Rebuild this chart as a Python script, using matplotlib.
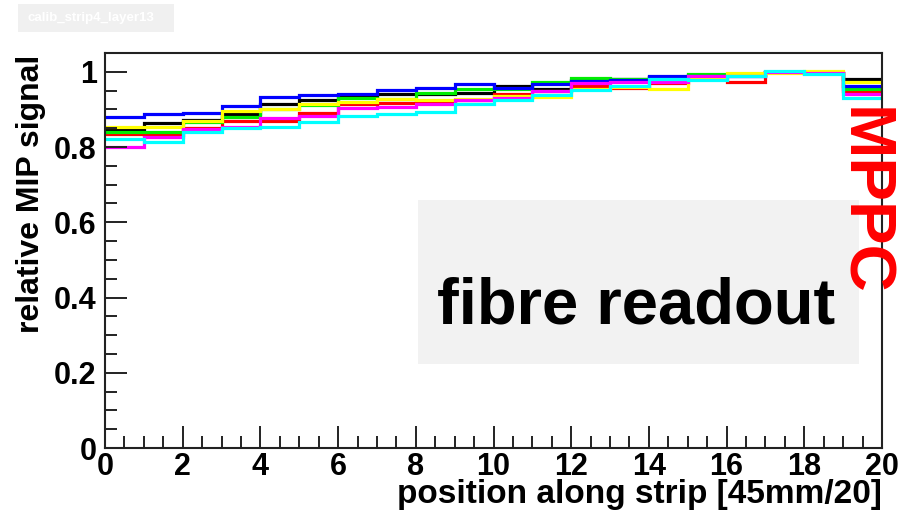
import matplotlib
matplotlib.use("Agg")
import matplotlib.pyplot as plt
from matplotlib.patches import Rectangle
from matplotlib.ticker import MultipleLocator
import numpy as np

plt.rcParams['font.family'] = ['Liberation Sans', 'DejaVu Sans']
plt.rcParams['font.weight'] = 'bold'

bin_edges = list(range(0, 21))

black = [0.845, 0.865, 0.872, 0.888, 0.914, 0.925, 0.932, 0.941, 0.941, 0.945,
         0.962, 0.955, 0.978, 0.980, 0.985, 0.992, 0.991, 1.000, 0.998, 0.980]
red = [0.835, 0.832, 0.850, 0.868, 0.870, 0.890, 0.914, 0.916, 0.923, 0.925,
       0.940, 0.950, 0.962, 0.956, 0.970, 0.980, 0.974, 1.000, 0.997, 0.948]
green = [0.839, 0.839, 0.866, 0.879, 0.900, 0.912, 0.930, 0.928, 0.945, 0.954,
         0.955, 0.973, 0.983, 0.982, 0.986, 0.994, 0.992, 1.000, 0.996, 0.954]
blue = [0.881, 0.888, 0.891, 0.908, 0.932, 0.938, 0.941, 0.951, 0.958, 0.967,
        0.958, 0.968, 0.975, 0.978, 0.988, 0.988, 0.990, 1.000, 0.996, 0.963]
yellow = [0.852, 0.852, 0.870, 0.897, 0.901, 0.914, 0.919, 0.928, 0.925, 0.927,
          0.935, 0.932, 0.955, 0.960, 0.955, 0.980, 0.996, 0.996, 1.003, 0.972]
magenta = [0.799, 0.828, 0.849, 0.853, 0.878, 0.883, 0.905, 0.907, 0.914, 0.925,
           0.930, 0.948, 0.970, 0.972, 0.972, 0.988, 0.988, 1.000, 0.996, 0.941]
cyan = [0.821, 0.813, 0.839, 0.851, 0.853, 0.866, 0.883, 0.888, 0.892, 0.914,
        0.925, 0.938, 0.952, 0.962, 0.980, 0.979, 0.990, 1.003, 0.993, 0.930]

series = [("black", black), ("#ff0000", red), ("#00ee00", green), ("#0000ff", blue),
          ("#ffff00", yellow), ("#ff00ff", magenta), ("#00ffff", cyan)]

W, H = 900, 514
fig = plt.figure(figsize=(9, 5.14), dpi=100)
ax = fig.add_axes([105 / W, 1 - 448 / H, (882 - 105) / W, (448 - 53) / H])

for color, vals in series:
    ax.stairs(vals, bin_edges, baseline=None, color=color, linewidth=2.3)

ax.set_xlim(0, 20)
ax.set_ylim(0, 1.05)
ax.xaxis.set_major_locator(MultipleLocator(2))
ax.xaxis.set_minor_locator(MultipleLocator(0.5))
ax.yaxis.set_major_locator(MultipleLocator(0.2))
ax.yaxis.set_minor_locator(MultipleLocator(0.05))
ax.set_yticks([0, 0.2, 0.4, 0.6, 0.8, 1.0])
ax.set_yticklabels(["0", "0.2", "0.4", "0.6", "0.8", "1"])

for s in ax.spines.values():
    s.set_linewidth(1.5)
    s.set_color("#222222")
ax.tick_params(which='major', direction='in', length=16, width=1.4, labelsize=22,
               color="#222222")
ax.tick_params(which='minor', direction='in', length=8.5, width=1.4, color="#222222")
ax.tick_params(axis='y', which='both', right=False, pad=6)
ax.tick_params(axis='x', which='both', top=False, pad=3)
for lab in ax.get_xticklabels() + ax.get_yticklabels():
    lab.set_fontweight('bold')

fig.text(31 / W, 1 - 55 / H, "relative MIP signal", rotation=90, ha='center', va='top',
         fontsize=23, fontweight='bold')
fig.text(882 / W, 1 - 495 / H, "position along strip [45mm/20]", ha='right', va='center',
         fontsize=24, fontweight='bold')

# fibre readout box
fig.patches.append(Rectangle((418 / W, 1 - 364 / H), (859 - 418) / W, (364 - 200) / H,
                             transform=fig.transFigure, facecolor='#f2f2f2',
                             edgecolor='none', zorder=1))
fig.text(636 / W, 1 - 323 / H, "fibre readout", ha='center', va='baseline',
         fontsize=47, fontweight='bold', color='black', zorder=3)

fig.text(862 / W, 1 - 201 / H, "MPPC", rotation=270, ha='center', va='center',
         fontsize=47, fontweight='bold', color='#ff0000', zorder=4)

# title box
fig.patches.append(Rectangle((18 / W, 1 - 32 / H), (174 - 18) / W, (32 - 4) / H,
                             transform=fig.transFigure, facecolor='#f0f0f0',
                             edgecolor='none'))
fig.text(91 / W, 1 - 18 / H, "calib_strip4_layer13", ha='center', va='center',
         fontsize=9.5, fontweight='bold', color='white')

ax.set_zorder(2)
ax.patch.set_alpha(0)

fig.savefig("out.png", dpi=100)
